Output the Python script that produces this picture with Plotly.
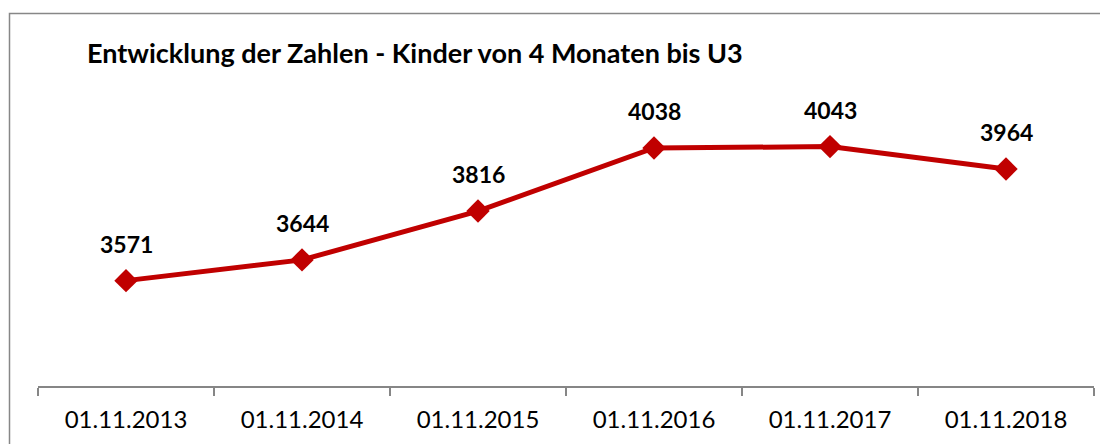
import plotly.graph_objects as go

categories = ["01.11.2013", "01.11.2014", "01.11.2015", "01.11.2016", "01.11.2017", "01.11.2018"]
values = [3571, 3644, 3816, 4038, 4043, 3964]
title_text = "Entwicklung der Zahlen - Kinder von 4 Monaten bis U3"

OFF = 8  # page body margin
W, H = 1108 - OFF, 444 - OFF
ml, mr, mt, mb = 38 - OFF, 1108 - 1094, 102 - OFF, 444 - 386
pw, ph = W - ml - mr, H - mt - mb

def px_x(x):
    return (x - OFF - ml) / pw

def px_y(y):
    return (H - mb - (y - OFF)) / ph

FONT = "Lato"
RED = "#C00000"

fig = go.Figure()
fig.add_trace(go.Scatter(
    x=categories, y=values, mode="lines+markers",
    line=dict(color=RED, width=5),
    marker=dict(symbol="diamond", size=18, color=RED),
    hoverinfo="x+y", showlegend=False,
))

for c, v in zip(categories, values):
    fig.add_annotation(x=c, y=v, text=f"<b>{v}</b>", showarrow=False,
                       yshift=37, font=dict(family=FONT, size=23, color="#000000"))

fig.add_annotation(xref="paper", yref="paper", x=px_x(85), y=px_y(53),
                   xanchor="left", yanchor="middle", showarrow=False,
                   text=f"<b>{title_text}</b>",
                   font=dict(family=FONT, size=27, color="#000000"))

fig.add_shape(type="rect", xref="paper", yref="paper",
              x0=px_x(9.5), x1=px_x(1120), y0=px_y(13.5), y1=px_y(460),
              line=dict(color="#878787", width=1.5), layer="below")

fig.update_layout(
    width=W, height=H,
    margin=dict(l=ml, r=mr, t=mt, b=mb),
    paper_bgcolor="white", plot_bgcolor="white",
    font=dict(family=FONT, color="#000000"),
    xaxis=dict(
        type="category", range=[-0.5, 5.5],
        showline=True, linecolor="#868686", linewidth=2,
        ticks="outside", tickson="boundaries", ticklen=8, tickwidth=2, tickcolor="#868686",
        ticklabelstandoff=11,
        showgrid=False, zeroline=False,
        tickfont=dict(family=FONT, size=24, color="#000000"),
    ),
    yaxis=dict(range=[3200, 4200], visible=False, showgrid=False, zeroline=False),
)

fig.write_html("out.html")
